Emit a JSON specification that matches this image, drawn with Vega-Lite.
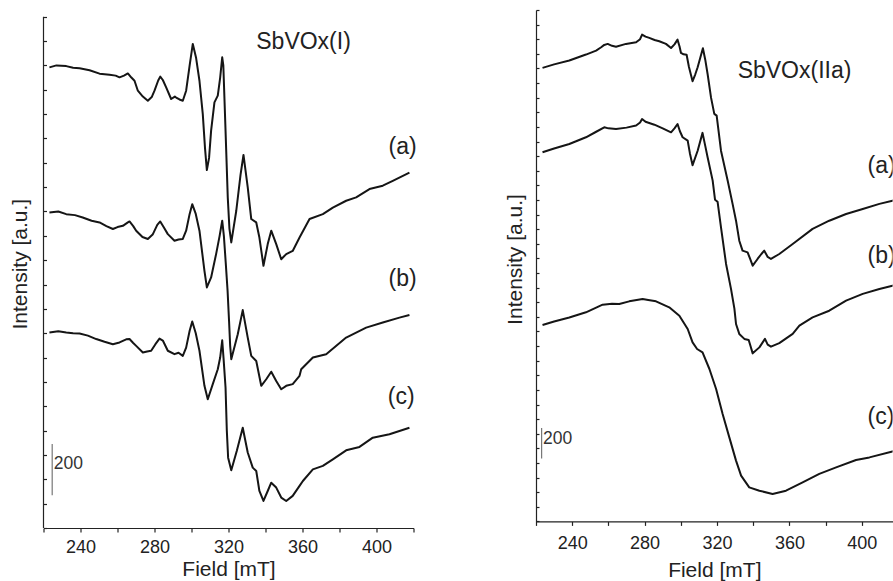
{
  "$schema": "https://vega.github.io/schema/vega-lite/v6.json",
  "background": "white",
  "padding": {"left": 9.5, "top": 9, "right": 0, "bottom": 0},
  "spacing": 86.5,
  "config": {
    "view": {"stroke": null},
    "font": "Liberation Sans",
    "axis": {
      "grid": false,
      "domainColor": "#222",
      "tickColor": "#222",
      "labelColor": "#222",
      "titleColor": "#222",
      "labelFont": "Liberation Sans",
      "titleFont": "Liberation Sans",
      "labelFontSize": 18,
      "titleFontSize": 21,
      "titleFontWeight": "normal",
      "domainWidth": 1.2,
      "tickWidth": 1.2
    }
  },
  "datasets": {
    "left": [
      {"s":"a","B":223.2,"I":1892},{"s":"a","B":227.0,"I":1900},{"s":"a","B":232.3,"I":1897},{"s":"a","B":236.0,"I":1890},{"s":"a","B":239.5,"I":1888},{"s":"a","B":244.9,"I":1880},{"s":"a","B":250.3,"I":1866},{"s":"a","B":255.7,"I":1862},{"s":"a","B":259.0,"I":1858},{"s":"a","B":261.1,"I":1851},{"s":"a","B":263.5,"I":1858},{"s":"a","B":265.6,"I":1867},{"s":"a","B":267.5,"I":1850},{"s":"a","B":269.2,"I":1837},{"s":"a","B":271.0,"I":1796},{"s":"a","B":273.7,"I":1772},{"s":"a","B":276.4,"I":1755},{"s":"a","B":278.5,"I":1770},{"s":"a","B":280.0,"I":1796},{"s":"a","B":282.0,"I":1838},{"s":"a","B":283.1,"I":1854},{"s":"a","B":284.5,"I":1840},{"s":"a","B":286.3,"I":1810},{"s":"a","B":289.0,"I":1762},{"s":"a","B":291.0,"I":1772},{"s":"a","B":291.7,"I":1768},{"s":"a","B":293.5,"I":1760},{"s":"a","B":295.3,"I":1755},{"s":"a","B":297.1,"I":1796},{"s":"a","B":299.0,"I":1900},{"s":"a","B":300.7,"I":1988},{"s":"a","B":302.5,"I":1930},{"s":"a","B":304.3,"I":1837},{"s":"a","B":306.1,"I":1700},{"s":"a","B":307.3,"I":1560},{"s":"a","B":308.3,"I":1470},{"s":"a","B":309.5,"I":1520},{"s":"a","B":310.6,"I":1632},{"s":"a","B":312.4,"I":1748},{"s":"a","B":314.2,"I":1776},{"s":"a","B":315.5,"I":1850},{"s":"a","B":316.6,"I":1933},{"s":"a","B":317.2,"I":1900},{"s":"a","B":318.4,"I":1632},{"s":"a","B":319.6,"I":1358},{"s":"a","B":320.5,"I":1230},{"s":"a","B":321.5,"I":1173},{"s":"a","B":324.2,"I":1303},{"s":"a","B":326.5,"I":1450},{"s":"a","B":328.1,"I":1532},{"s":"a","B":330.4,"I":1399},{"s":"a","B":332.3,"I":1269},{"s":"a","B":335.0,"I":1255},{"s":"a","B":336.7,"I":1193},{"s":"a","B":338.9,"I":1077},{"s":"a","B":341.2,"I":1166},{"s":"a","B":343.1,"I":1221},{"s":"a","B":345.8,"I":1166},{"s":"a","B":348.5,"I":1104},{"s":"a","B":351.2,"I":1125},{"s":"a","B":354.7,"I":1138},{"s":"a","B":358.4,"I":1193},{"s":"a","B":363.8,"I":1269},{"s":"a","B":371.0,"I":1289},{"s":"a","B":376.4,"I":1316},{"s":"a","B":383.6,"I":1344},{"s":"a","B":389.0,"I":1358},{"s":"a","B":396.2,"I":1392},{"s":"a","B":403.4,"I":1406},{"s":"a","B":408.8,"I":1426},{"s":"a","B":417.8,"I":1460},
      {"s":"b","B":223.2,"I":1296},{"s":"b","B":228.0,"I":1300},{"s":"b","B":232.3,"I":1289},{"s":"b","B":237.0,"I":1285},{"s":"b","B":241.2,"I":1275},{"s":"b","B":246.0,"I":1262},{"s":"b","B":250.3,"I":1255},{"s":"b","B":254.0,"I":1240},{"s":"b","B":257.5,"I":1228},{"s":"b","B":260.0,"I":1236},{"s":"b","B":262.9,"I":1241},{"s":"b","B":265.6,"I":1255},{"s":"b","B":266.5,"I":1259},{"s":"b","B":268.5,"I":1240},{"s":"b","B":270.1,"I":1221},{"s":"b","B":273.5,"I":1195},{"s":"b","B":276.4,"I":1187},{"s":"b","B":279.0,"I":1205},{"s":"b","B":281.5,"I":1245},{"s":"b","B":283.1,"I":1259},{"s":"b","B":285.0,"I":1235},{"s":"b","B":287.2,"I":1207},{"s":"b","B":290.8,"I":1180},{"s":"b","B":293.0,"I":1185},{"s":"b","B":295.3,"I":1187},{"s":"b","B":297.1,"I":1221},{"s":"b","B":299.0,"I":1290},{"s":"b","B":300.4,"I":1330},{"s":"b","B":302.3,"I":1290},{"s":"b","B":304.3,"I":1221},{"s":"b","B":307.0,"I":1056},{"s":"b","B":308.3,"I":988},{"s":"b","B":310.6,"I":1029},{"s":"b","B":313.3,"I":1125},{"s":"b","B":315.2,"I":1200},{"s":"b","B":316.6,"I":1262},{"s":"b","B":317.5,"I":1200},{"s":"b","B":318.5,"I":1090},{"s":"b","B":319.5,"I":975},{"s":"b","B":320.3,"I":850},{"s":"b","B":320.9,"I":748},{"s":"b","B":321.5,"I":693},{"s":"b","B":325.0,"I":796},{"s":"b","B":327.7,"I":895},{"s":"b","B":330.4,"I":782},{"s":"b","B":332.3,"I":707},{"s":"b","B":335.0,"I":686},{"s":"b","B":337.7,"I":584},{"s":"b","B":340.4,"I":611},{"s":"b","B":343.1,"I":642},{"s":"b","B":345.8,"I":604},{"s":"b","B":348.5,"I":570},{"s":"b","B":351.2,"I":584},{"s":"b","B":354.7,"I":591},{"s":"b","B":358.4,"I":625},{"s":"b","B":359.3,"I":652},{"s":"b","B":365.6,"I":700},{"s":"b","B":372.8,"I":714},{"s":"b","B":383.6,"I":782},{"s":"b","B":394.4,"I":823},{"s":"b","B":403.4,"I":844},{"s":"b","B":412.4,"I":864},{"s":"b","B":417.8,"I":875},
      {"s":"c","B":223.2,"I":803},{"s":"c","B":228.0,"I":808},{"s":"c","B":232.3,"I":803},{"s":"c","B":236.0,"I":800},{"s":"c","B":239.5,"I":799},{"s":"c","B":244.0,"I":790},{"s":"c","B":248.5,"I":776},{"s":"c","B":253.0,"I":765},{"s":"c","B":257.5,"I":755},{"s":"c","B":261.1,"I":762},{"s":"c","B":264.7,"I":775},{"s":"c","B":266.5,"I":776},{"s":"c","B":268.5,"I":760},{"s":"c","B":270.1,"I":748},{"s":"c","B":273.7,"I":721},{"s":"c","B":276.0,"I":725},{"s":"c","B":278.2,"I":728},{"s":"c","B":280.5,"I":755},{"s":"c","B":282.7,"I":778},{"s":"c","B":284.5,"I":770},{"s":"c","B":287.2,"I":728},{"s":"c","B":290.8,"I":714},{"s":"c","B":293.0,"I":720},{"s":"c","B":295.3,"I":707},{"s":"c","B":297.1,"I":741},{"s":"c","B":299.0,"I":810},{"s":"c","B":300.4,"I":848},{"s":"c","B":302.3,"I":800},{"s":"c","B":304.3,"I":728},{"s":"c","B":307.0,"I":584},{"s":"c","B":308.8,"I":529},{"s":"c","B":311.5,"I":591},{"s":"c","B":314.2,"I":652},{"s":"c","B":315.5,"I":700},{"s":"c","B":316.6,"I":771},{"s":"c","B":317.3,"I":700},{"s":"c","B":318.4,"I":577},{"s":"c","B":319.1,"I":399},{"s":"c","B":319.8,"I":289},{"s":"c","B":321.5,"I":237},{"s":"c","B":324.5,"I":317},{"s":"c","B":327.7,"I":412},{"s":"c","B":330.4,"I":310},{"s":"c","B":333.1,"I":248},{"s":"c","B":335.0,"I":234},{"s":"c","B":336.7,"I":152},{"s":"c","B":338.9,"I":111},{"s":"c","B":341.2,"I":152},{"s":"c","B":343.1,"I":186},{"s":"c","B":345.8,"I":166},{"s":"c","B":348.5,"I":125},{"s":"c","B":351.2,"I":111},{"s":"c","B":354.7,"I":132},{"s":"c","B":358.4,"I":173},{"s":"c","B":360.2,"I":193},{"s":"c","B":365.6,"I":241},{"s":"c","B":371.0,"I":255},{"s":"c","B":376.4,"I":282},{"s":"c","B":383.6,"I":319},{"s":"c","B":390.8,"I":333},{"s":"c","B":398.0,"I":371},{"s":"c","B":407.0,"I":385},{"s":"c","B":417.8,"I":412}
    ],
    "right": [
      {"s":"a","B":223.6,"I":3104},{"s":"a","B":230.0,"I":3128},{"s":"a","B":238.4,"I":3154},{"s":"a","B":243.0,"I":3175},{"s":"a","B":247.6,"I":3195},{"s":"a","B":253.2,"I":3222},{"s":"a","B":256.0,"I":3245},{"s":"a","B":257.7,"I":3261},{"s":"a","B":259.6,"I":3268},{"s":"a","B":262.0,"I":3255},{"s":"a","B":264.2,"I":3249},{"s":"a","B":269.7,"I":3268},{"s":"a","B":275.3,"I":3279},{"s":"a","B":277.5,"I":3300},{"s":"a","B":278.6,"I":3332},{"s":"a","B":280.5,"I":3318},{"s":"a","B":282.6,"I":3309},{"s":"a","B":285.5,"I":3295},{"s":"a","B":288.1,"I":3286},{"s":"a","B":291.8,"I":3268},{"s":"a","B":294.6,"I":3240},{"s":"a","B":296.5,"I":3265},{"s":"a","B":298.2,"I":3297},{"s":"a","B":299.3,"I":3250},{"s":"a","B":300.1,"I":3206},{"s":"a","B":301.5,"I":3197},{"s":"a","B":303.2,"I":3194},{"s":"a","B":304.5,"I":3110},{"s":"a","B":306.5,"I":3013},{"s":"a","B":308.0,"I":3060},{"s":"a","B":309.3,"I":3108},{"s":"a","B":312.2,"I":3238},{"s":"a","B":313.5,"I":3160},{"s":"a","B":314.8,"I":3062},{"s":"a","B":316.7,"I":2900},{"s":"a","B":318.5,"I":2789},{"s":"a","B":319.8,"I":2777},{"s":"a","B":322.2,"I":2537},{"s":"a","B":325.9,"I":2332},{"s":"a","B":328.6,"I":2173},{"s":"a","B":330.5,"I":2058},{"s":"a","B":332.3,"I":1921},{"s":"a","B":334.1,"I":1853},{"s":"a","B":336.9,"I":1841},{"s":"a","B":338.2,"I":1800},{"s":"a","B":339.7,"I":1750},{"s":"a","B":342.4,"I":1796},{"s":"a","B":344.5,"I":1830},{"s":"a","B":346.1,"I":1853},{"s":"a","B":348.0,"I":1810},{"s":"a","B":349.8,"I":1796},{"s":"a","B":354.4,"I":1830},{"s":"a","B":361.8,"I":1899},{"s":"a","B":372.8,"I":2002},{"s":"a","B":382.0,"I":2058},{"s":"a","B":391.3,"I":2104},{"s":"a","B":400.5,"I":2138},{"s":"a","B":409.7,"I":2173},{"s":"a","B":416.9,"I":2195},{"s":"a","B":420.0,"I":2205},
      {"s":"b","B":223.6,"I":2526},{"s":"b","B":230.0,"I":2552},{"s":"b","B":238.4,"I":2583},{"s":"b","B":247.6,"I":2629},{"s":"b","B":253.0,"I":2665},{"s":"b","B":257.7,"I":2697},{"s":"b","B":260.0,"I":2690},{"s":"b","B":264.2,"I":2686},{"s":"b","B":270.0,"I":2695},{"s":"b","B":275.3,"I":2709},{"s":"b","B":277.5,"I":2730},{"s":"b","B":278.6,"I":2754},{"s":"b","B":280.5,"I":2735},{"s":"b","B":285.4,"I":2715},{"s":"b","B":290.0,"I":2690},{"s":"b","B":294.6,"I":2663},{"s":"b","B":296.5,"I":2690},{"s":"b","B":298.2,"I":2720},{"s":"b","B":299.5,"I":2670},{"s":"b","B":301.0,"I":2629},{"s":"b","B":303.8,"I":2606},{"s":"b","B":305.0,"I":2520},{"s":"b","B":306.5,"I":2438},{"s":"b","B":309.3,"I":2537},{"s":"b","B":312.0,"I":2659},{"s":"b","B":313.5,"I":2570},{"s":"b","B":314.8,"I":2492},{"s":"b","B":317.6,"I":2332},{"s":"b","B":318.9,"I":2202},{"s":"b","B":320.3,"I":2188},{"s":"b","B":322.2,"I":2012},{"s":"b","B":325.0,"I":1762},{"s":"b","B":327.7,"I":1593},{"s":"b","B":329.6,"I":1456},{"s":"b","B":330.5,"I":1351},{"s":"b","B":332.3,"I":1283},{"s":"b","B":335.1,"I":1249},{"s":"b","B":337.5,"I":1242},{"s":"b","B":338.5,"I":1200},{"s":"b","B":339.7,"I":1150},{"s":"b","B":343.4,"I":1191},{"s":"b","B":346.5,"I":1249},{"s":"b","B":348.0,"I":1210},{"s":"b","B":349.8,"I":1196},{"s":"b","B":354.4,"I":1220},{"s":"b","B":361.8,"I":1283},{"s":"b","B":365.5,"I":1340},{"s":"b","B":372.8,"I":1396},{"s":"b","B":382.0,"I":1442},{"s":"b","B":391.3,"I":1511},{"s":"b","B":400.5,"I":1557},{"s":"b","B":409.7,"I":1591},{"s":"b","B":416.9,"I":1613},{"s":"b","B":420.0,"I":1622},
      {"s":"c","B":223.6,"I":1344},{"s":"c","B":230.0,"I":1368},{"s":"c","B":238.4,"I":1396},{"s":"c","B":247.6,"I":1431},{"s":"c","B":256.8,"I":1483},{"s":"c","B":262.0,"I":1490},{"s":"c","B":266.0,"I":1488},{"s":"c","B":271.5,"I":1506},{"s":"c","B":278.9,"I":1522},{"s":"c","B":282.0,"I":1515},{"s":"c","B":286.3,"I":1506},{"s":"c","B":293.6,"I":1465},{"s":"c","B":299.2,"I":1408},{"s":"c","B":303.8,"I":1317},{"s":"c","B":306.5,"I":1225},{"s":"c","B":309.0,"I":1180},{"s":"c","B":312.0,"I":1157},{"s":"c","B":315.8,"I":1043},{"s":"c","B":319.5,"I":906},{"s":"c","B":323.1,"I":735},{"s":"c","B":326.8,"I":575},{"s":"c","B":330.5,"I":416},{"s":"c","B":333.3,"I":313},{"s":"c","B":337.8,"I":233},{"s":"c","B":343.4,"I":210},{"s":"c","B":350.7,"I":188},{"s":"c","B":358.1,"I":210},{"s":"c","B":367.3,"I":267},{"s":"c","B":376.5,"I":325},{"s":"c","B":385.8,"I":370},{"s":"c","B":396.8,"I":420},{"s":"c","B":404.2,"I":438},{"s":"c","B":416.9,"I":479},{"s":"c","B":420.0,"I":487}
    ],
    "leftLabels": [
      {"B":335.0,"I":1997,"label":"SbVOx(I)"},
      {"B":406.5,"I":1563,"label":"(a)"},
      {"B":406.5,"I":1023,"label":"(b)"},
      {"B":406.1,"I":538,"label":"(c)"}
    ],
    "rightLabels": [
      {"B":331.4,"I":3085,"label":"SbVOx(IIa)"},
      {"B":403.2,"I":2435,"label":"(a)"},
      {"B":403.2,"I":1819,"label":"(b)"},
      {"B":403.2,"I":717,"label":"(c)"}
    ],
    "leftAxis": [{"B":220,"I1":0,"I2":2100}],
    "leftBar": [{"B":224.7,"I1":135,"I2":345,"label":"200","IL":263}],
    "rightBar": [{"B":223.1,"I1":431,"I2":639,"label":"200","IL":564}]
  },
  "hconcat": [
    {
      "width": 370,
      "height": 518,
      "encoding": {
        "x": {"type": "quantitative", "scale": {"domain": [220, 420], "nice": false},
          "axis": {"title": "Field [mT]", "values": [220,240,260,280,300,320,340,360,380,400,420], "labelExpr": "datum.value % 40 == 0 ? datum.label : ''", "tickSize": 4, "labelPadding": 6, "titlePadding": 2}},
        "y": {"type": "quantitative", "scale": {"domain": [0, 2127.5], "nice": false},
          "axis": {"title": "Intensity [a.u.]", "labels": false, "domain": false, "tickSize": -3, "titlePadding": 12, "titleY": 253.7,
            "values": [0,100,200,300,400,500,600,700,800,900,1000,1100,1200,1300,1400,1500,1600,1700,1800,1900,2000,2100]}}
      },
      "layer": [
        {"data": {"name": "leftAxis"}, "mark": {"type": "rule", "color": "#222", "strokeWidth": 1.2},
          "encoding": {"x": {"field": "B", "type": "quantitative"}, "y": {"field": "I1", "type": "quantitative"}, "y2": {"field": "I2"}}},
        {"data": {"name": "left"}, "mark": {"type": "line", "color": "#151515", "strokeWidth": 2, "strokeJoin": "round"},
          "encoding": {"x": {"field": "B", "type": "quantitative"}, "y": {"field": "I", "type": "quantitative"}, "detail": {"field": "s"}}},
        {"data": {"name": "leftBar"}, "mark": {"type": "rule", "color": "#777", "strokeWidth": 1.2},
          "encoding": {"x": {"field": "B", "type": "quantitative"}, "y": {"field": "I1", "type": "quantitative"}, "y2": {"field": "I2"}}},
        {"data": {"name": "leftBar"}, "mark": {"type": "text", "align": "left", "baseline": "middle", "dx": 1.5, "fontSize": 17.5, "color": "#333", "font": "Liberation Sans"},
          "encoding": {"x": {"field": "B", "type": "quantitative"}, "y": {"field": "IL", "type": "quantitative"}, "text": {"field": "label"}}},
        {"data": {"name": "leftLabels"}, "mark": {"type": "text", "align": "left", "baseline": "middle", "fontSize": 23, "color": "#222", "font": "Liberation Sans"},
          "encoding": {"x": {"field": "B", "type": "quantitative"}, "y": {"field": "I", "type": "quantitative"}, "text": {"field": "label"}}}
      ]
    },
    {
      "width": 356.6,
      "height": 511.4,
      "encoding": {
        "x": {"type": "quantitative", "scale": {"domain": [220, 417], "nice": false},
          "axis": {"title": "Field [mT]", "values": [220,240,260,280,300,320,340,360,380,400], "labelExpr": "datum.value % 40 == 0 ? datum.label : ''", "tickSize": 4, "labelPadding": 9, "titlePadding": 7}},
        "y": {"type": "quantitative", "scale": {"domain": [0, 3500], "nice": false},
          "axis": {"title": "Intensity [a.u.]", "labels": false, "tickSize": -3, "titlePadding": 10, "titleY": 249,
            "values": [0,100,200,300,400,500,600,700,800,900,1000,1100,1200,1300,1400,1500,1600,1700,1800,1900,2000,2100,2200,2300,2400,2500,2600,2700,2800,2900,3000,3100,3200,3300,3400,3500]}}
      },
      "layer": [
        {"data": {"name": "right"}, "mark": {"type": "line", "color": "#151515", "strokeWidth": 2, "strokeJoin": "round", "clip": true},
          "encoding": {"x": {"field": "B", "type": "quantitative"}, "y": {"field": "I", "type": "quantitative"}, "detail": {"field": "s"}}},
        {"data": {"name": "rightBar"}, "mark": {"type": "rule", "color": "#777", "strokeWidth": 1.2},
          "encoding": {"x": {"field": "B", "type": "quantitative"}, "y": {"field": "I1", "type": "quantitative"}, "y2": {"field": "I2"}}},
        {"data": {"name": "rightBar"}, "mark": {"type": "text", "align": "left", "baseline": "middle", "dx": 1.5, "fontSize": 17.5, "color": "#333", "font": "Liberation Sans"},
          "encoding": {"x": {"field": "B", "type": "quantitative"}, "y": {"field": "IL", "type": "quantitative"}, "text": {"field": "label"}}},
        {"data": {"name": "rightLabels"}, "mark": {"type": "text", "align": "left", "baseline": "middle", "fontSize": 23, "color": "#222", "font": "Liberation Sans", "clip": true},
          "encoding": {"x": {"field": "B", "type": "quantitative"}, "y": {"field": "I", "type": "quantitative"}, "text": {"field": "label"}}}
      ]
    }
  ]
}
